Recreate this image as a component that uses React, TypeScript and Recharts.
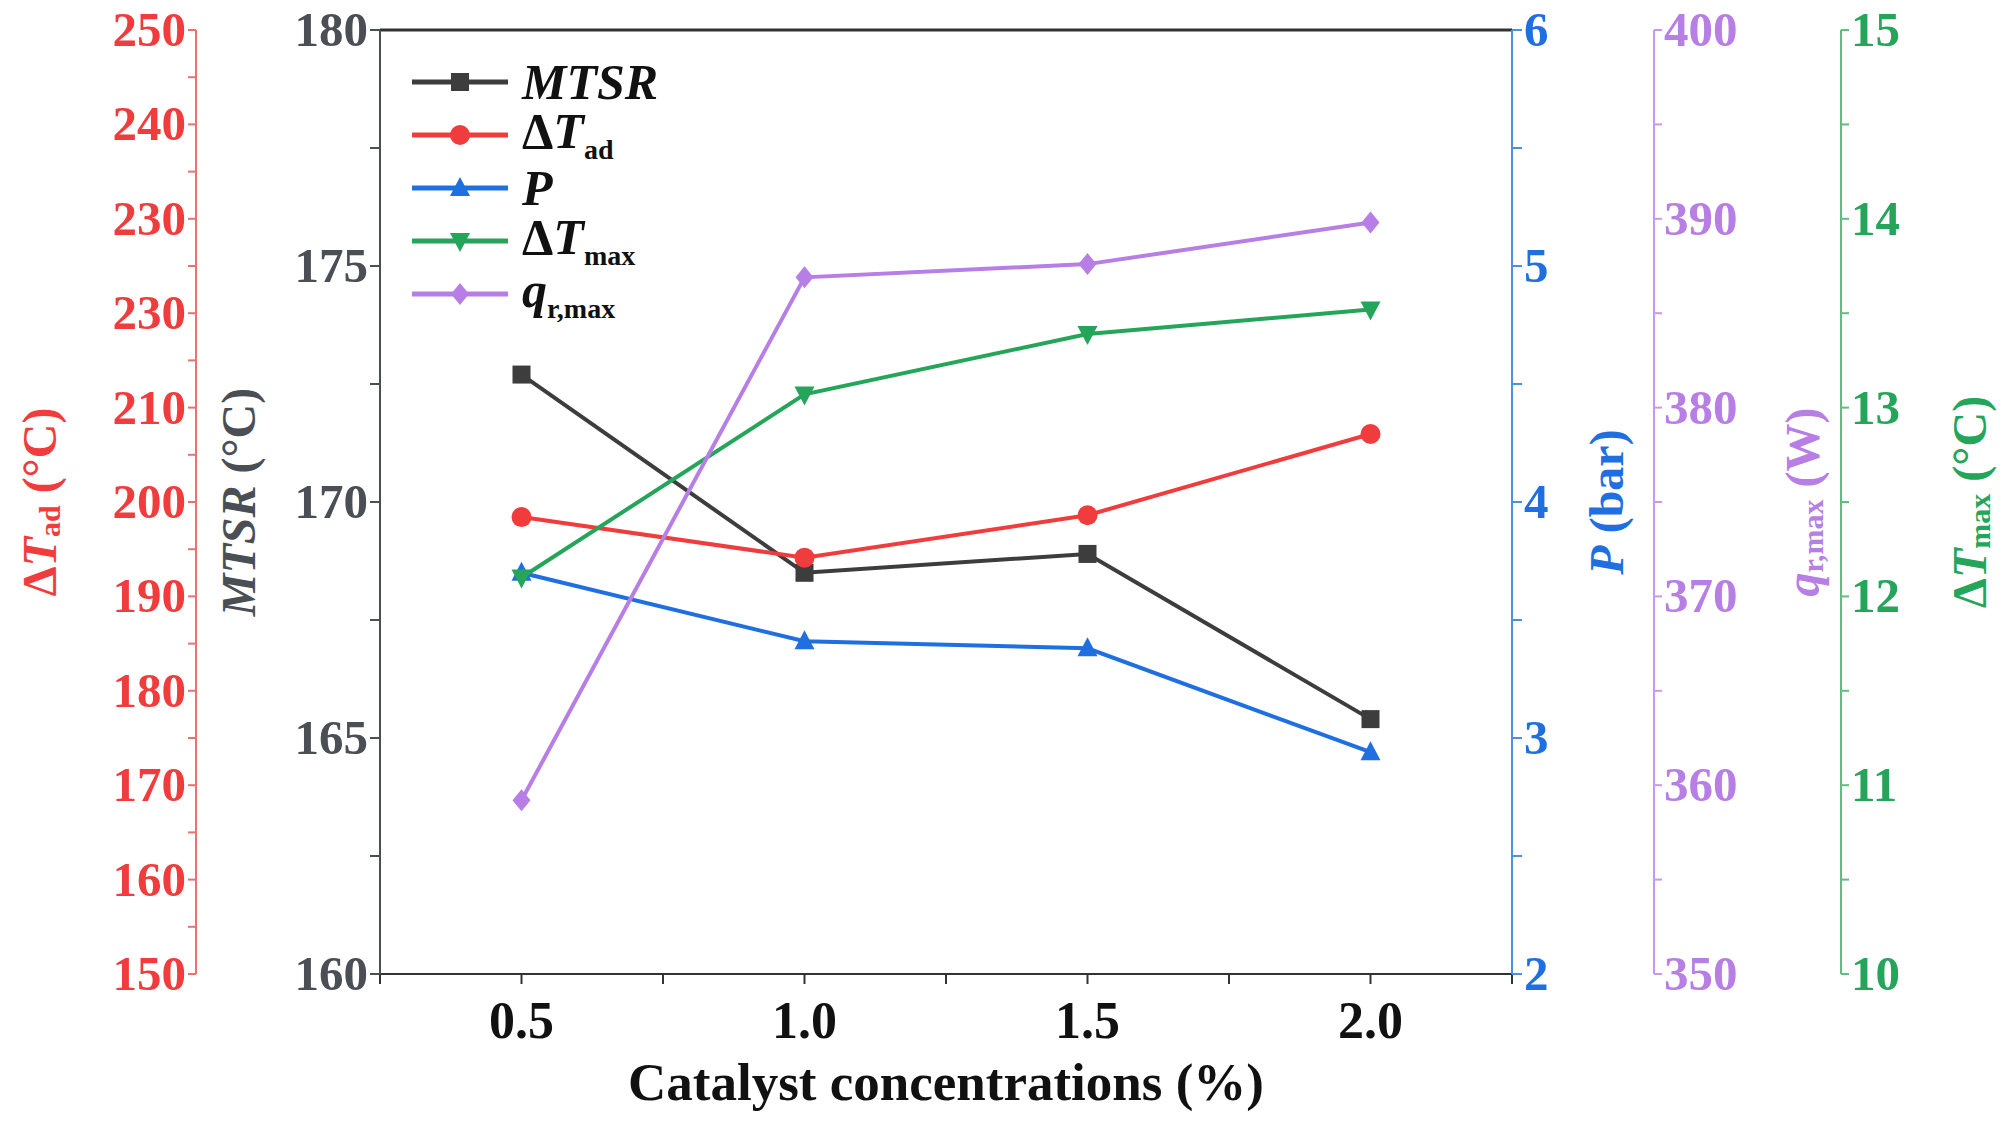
import { LineChart, Line, XAxis, YAxis, ReferenceLine } from 'recharts';

const concentrations = [0.5, 1.0, 1.5, 2.0];
const mtsr = [172.7, 168.5, 168.9, 165.4];
const dTad = [198.4, 194.1, 198.6, 207.2];
const pressure = [3.7, 3.41, 3.38, 2.94];
const dTmax = [12.1, 13.07, 13.39, 13.52];
const qrmax = [359.2, 386.9, 387.6, 389.8];

const xTicks = [0.25, 0.5, 0.75, 1.0, 1.25, 1.5, 1.75, 2.0, 2.25];
const mtsrTicks = [160, 162.5, 165, 167.5, 170, 172.5, 175, 177.5, 180];
const tadTicks = [150, 155, 160, 165, 170, 175, 180, 185, 190, 195, 200, 205, 210, 215, 220, 225, 230, 235, 240, 245, 250];
const tadLabels = ['150', '160', '170', '180', '190', '200', '210', '230', '230', '240', '250'];
const pTicks = [2, 2.5, 3, 3.5, 4, 4.5, 5, 5.5, 6];
const tmaxTicks = [10, 10.5, 11, 11.5, 12, 12.5, 13, 13.5, 14, 14.5, 15];
const qTicks = [350, 355, 360, 365, 370, 375, 380, 385, 390, 395, 400];

const data = concentrations.map((c, i) => ({
  c, mtsr: mtsr[i], tad: dTad[i], p: pressure[i], tmax: dTmax[i], q: qrmax[i],
}));

const C = {
  mtsr: '#3d3d3d', mtsrAxis: '#4a4f55',
  tad: '#f03c3c', tadAxis: '#f07070',
  p: '#1f6fe0', pAxis: '#4d8fe0',
  tmax: '#25a55a', tmaxAxis: '#5cbf80',
  q: '#b77ee6', qAxis: '#c79ae8',
};
const FONT = 'Liberation Serif, Times New Roman, serif';

const Marker = ({ cx, cy, kind, color }: any) => {
  if (cx == null || cy == null) return null;
  const s = 9;
  if (kind === 'square') return <rect x={cx - s} y={cy - s} width={2 * s} height={2 * s} fill={color} />;
  if (kind === 'circle') return <circle cx={cx} cy={cy} r={s + 1} fill={color} />;
  if (kind === 'up') return <polygon points={`${cx},${cy - s - 2} ${cx + s + 1},${cy + s - 1} ${cx - s - 1},${cy + s - 1}`} fill={color} />;
  if (kind === 'down') return <polygon points={`${cx},${cy + s + 2} ${cx + s + 1},${cy - s + 1} ${cx - s - 1},${cy - s + 1}`} fill={color} />;
  return <polygon points={`${cx},${cy - s - 2} ${cx + s},${cy} ${cx},${cy + s + 2} ${cx - s},${cy}`} fill={color} />;
};

const numTick = (color: string, anchorLeft: boolean, fmt: (v: number, i: number) => string) => (props: any) => {
  const { x, y, payload, index } = props;
  const txt = fmt(payload.value, index);
  if (!txt) return null;
  return (
    <text x={x} y={y} dy={16} textAnchor={anchorLeft ? 'start' : 'end'} fill={color}
      fontFamily={FONT} fontWeight="bold" fontSize={49}>{txt}</text>
  );
};

const AxisTitle = (off: number, color: string, parts: any) => (props: any) => {
  const vb = props.viewBox;
  const x = vb.x + off;
  const y = vb.y + vb.height / 2;
  return (
    <text x={x} y={y} transform={`rotate(-90 ${x} ${y})`} textAnchor="middle" dominantBaseline="central"
      fill={color} fontFamily={FONT} fontWeight="bold" fontSize={48}>{parts}</text>
  );
};

const legendItems = [
  { key: 'mtsr', kind: 'square', color: C.mtsr, label: <i>MTSR</i> },
  { key: 'tad', kind: 'circle', color: C.tad, label: <>Δ<i>T</i><sub style={{ fontSize: 28 }}>ad</sub></> },
  { key: 'p', kind: 'up', color: C.p, label: <i>P</i> },
  { key: 'tmax', kind: 'down', color: C.tmax, label: <>Δ<i>T</i><sub style={{ fontSize: 28 }}>max</sub></> },
  { key: 'q', kind: 'diamond', color: C.q, label: <><i>q</i><sub style={{ fontSize: 28 }}>r,max</sub></> },
];

export default function App() {
  return (
    <div style={{ position: 'absolute', left: 0, top: 0, width: 2008, height: 1132, background: '#fff' }}>
      <LineChart width={2008} height={1132} data={data} margin={{ top: 30, right: 0, bottom: 0, left: 0 }}>
        <XAxis dataKey="c" type="number" domain={[0.25, 2.25]} ticks={xTicks} height={158}
          stroke="#333" strokeWidth={2} tickSize={10}
          tick={(props: any) => {
            const v = props.payload.value;
            if (![0.5, 1, 1.5, 2].includes(v)) return null;
            return <text x={props.x} y={props.y} dy={52} textAnchor="middle" fill="#111" fontFamily={FONT}
              fontWeight="bold" fontSize={52}>{v.toFixed(1)}</text>;
          }}
          label={(props: any) => {
            const vb = props.viewBox;
            return <text x={vb.x + vb.width / 2} y={1100} textAnchor="middle" fill="#111" fontFamily={FONT}
              fontWeight="bold" fontSize={53}>Catalyst concentrations (%)</text>;
          }} />
        <YAxis yAxisId="mtsr" domain={[160, 180]} ticks={mtsrTicks} width={184} stroke={C.mtsrAxis}
          strokeWidth={2} tickSize={10}
          tick={numTick(C.mtsrAxis, false, (v) => (v % 5 === 0 ? String(v) : ''))}
          label={AxisTitle(42, C.mtsrAxis, <><tspan fontStyle="italic">MTSR</tspan> (°C)</>)} />
        <YAxis yAxisId="tad" domain={[150, 250]} ticks={tadTicks} width={196} stroke={C.tadAxis}
          strokeWidth={2} tickSize={8}
          tick={numTick(C.tad, false, (v) => (v % 10 === 0 ? tadLabels[(v - 150) / 10] : ''))}
          label={AxisTitle(39, C.tad, <>Δ<tspan fontStyle="italic">T</tspan><tspan fontSize={30} dy={10}>ad</tspan><tspan dy={-10}> (°C)</tspan></>)} />
        <YAxis yAxisId="p" orientation="right" domain={[2, 6]} ticks={pTicks} width={142} stroke={C.pAxis}
          strokeWidth={2} tickSize={10}
          tick={numTick(C.p, true, (v) => (v % 1 === 0 ? String(v) : ''))}
          label={AxisTitle(94, C.p, <><tspan fontStyle="italic">P</tspan> (bar)</>)} />
        <YAxis yAxisId="tmax" orientation="right" domain={[10, 15]} ticks={tmaxTicks} width={167} stroke={C.tmaxAxis}
          strokeWidth={2} tickSize={8}
          tick={numTick(C.tmax, true, (v) => (v % 1 === 0 ? String(v) : ''))}
          label={AxisTitle(128, C.tmax, <>Δ<tspan fontStyle="italic">T</tspan><tspan fontSize={30} dy={10}>max</tspan><tspan dy={-10}> (°C)</tspan></>)} />
        <YAxis yAxisId="q" orientation="right" domain={[350, 400]} ticks={qTicks} width={187} stroke={C.qAxis}
          strokeWidth={2} tickSize={8}
          tick={numTick(C.q, true, (v) => (v % 10 === 0 ? String(v) : ''))}
          label={AxisTitle(148, C.q, <><tspan fontStyle="italic">q</tspan><tspan fontSize={30} dy={10}>r,max</tspan><tspan dy={-10}> (W)</tspan></>)} />
        <ReferenceLine yAxisId="mtsr" y={180} stroke="#333" strokeWidth={3} />
        <Line yAxisId="mtsr" dataKey="mtsr" stroke={C.mtsr} strokeWidth={4} isAnimationActive={false}
          dot={(p: any) => <Marker key={p.index} {...p} kind="square" color={C.mtsr} />} />
        <Line yAxisId="tad" dataKey="tad" stroke={C.tad} strokeWidth={4} isAnimationActive={false}
          dot={(p: any) => <Marker key={p.index} {...p} kind="circle" color={C.tad} />} />
        <Line yAxisId="p" dataKey="p" stroke={C.p} strokeWidth={4} isAnimationActive={false}
          dot={(p: any) => <Marker key={p.index} {...p} kind="up" color={C.p} />} />
        <Line yAxisId="tmax" dataKey="tmax" stroke={C.tmax} strokeWidth={4} isAnimationActive={false}
          dot={(p: any) => <Marker key={p.index} {...p} kind="down" color={C.tmax} />} />
        <Line yAxisId="q" dataKey="q" stroke={C.q} strokeWidth={4} isAnimationActive={false}
          dot={(p: any) => <Marker key={p.index} {...p} kind="diamond" color={C.q} />} />
      </LineChart>
      <div style={{ position: 'absolute', left: 410, top: 55, fontFamily: FONT, fontWeight: 'bold', fontSize: 50, color: '#111' }}>
        {legendItems.map((it) => (
          <div key={it.key} style={{ display: 'flex', alignItems: 'center', height: 53 }}>
            <svg width={100} height={30} style={{ marginRight: 12 }}>
              <line x1={2} y1={15} x2={98} y2={15} stroke={it.color} strokeWidth={5} />
              <Marker cx={50} cy={15} kind={it.kind} color={it.color} />
            </svg>
            <span style={{ lineHeight: 1 }}>{it.label}</span>
          </div>
        ))}
      </div>
    </div>
  );
}
